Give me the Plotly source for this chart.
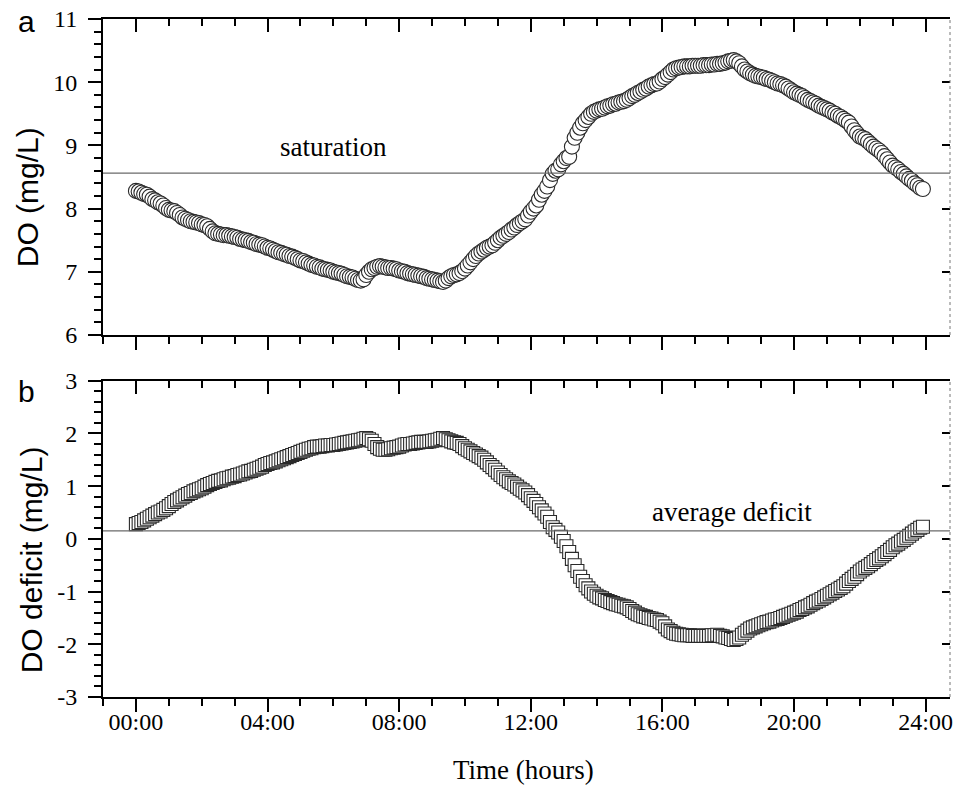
import numpy as np
import plotly.graph_objects as go

# Dissolved oxygen (mg/L), one reading every 5 minutes from 00:00 to 23:55
do_mgL = [
    8.28, 8.27, 8.25, 8.23, 8.22, 8.19, 8.15, 8.13, 8.10, 8.08, 8.05, 8.01,
    7.98, 7.97, 7.96, 7.93, 7.90, 7.86, 7.84, 7.82, 7.80, 7.79, 7.78, 7.77,
    7.75, 7.74, 7.72, 7.68, 7.64, 7.61, 7.60, 7.59, 7.58, 7.58, 7.57, 7.56,
    7.55, 7.54, 7.52, 7.51, 7.50, 7.49, 7.47, 7.46, 7.44, 7.43, 7.42, 7.40,
    7.38, 7.37, 7.35, 7.33, 7.31, 7.30, 7.28, 7.27, 7.25, 7.24, 7.22, 7.20,
    7.18, 7.17, 7.15, 7.13, 7.11, 7.10, 7.08, 7.07, 7.05, 7.04, 7.03, 7.02,
    7.00, 6.99, 6.98, 6.97, 6.95, 6.93, 6.92, 6.91, 6.89, 6.87, 6.86, 6.88,
    6.95, 7.00, 7.04, 7.06, 7.08, 7.09, 7.08, 7.07, 7.06, 7.06, 7.05, 7.04,
    7.02, 7.01, 7.00, 6.98, 6.97, 6.96, 6.95, 6.94, 6.93, 6.92, 6.90, 6.89,
    6.88, 6.87, 6.86, 6.85, 6.84, 6.86, 6.90, 6.93, 6.95, 6.96, 6.98, 7.01,
    7.05, 7.10, 7.15, 7.20, 7.25, 7.29, 7.32, 7.35, 7.38, 7.40, 7.42, 7.46,
    7.50, 7.54, 7.57, 7.60, 7.63, 7.67, 7.70, 7.74, 7.77, 7.80, 7.83, 7.89,
    7.95, 8.00, 8.05, 8.14, 8.22, 8.28, 8.35, 8.45, 8.55, 8.60, 8.62, 8.70,
    8.75, 8.80, 8.82, 8.98, 9.12, 9.20, 9.28, 9.35, 9.40, 9.45, 9.50, 9.53,
    9.55, 9.57, 9.58, 9.60, 9.62, 9.63, 9.65, 9.66, 9.68, 9.69, 9.70, 9.72,
    9.75, 9.78, 9.80, 9.83, 9.85, 9.88, 9.90, 9.93, 9.95, 9.97, 9.98, 10.01,
    10.05, 10.08, 10.12, 10.16, 10.20, 10.22, 10.23, 10.24, 10.25, 10.25, 10.25, 10.26,
    10.26, 10.26, 10.26, 10.27, 10.27, 10.27, 10.28, 10.28, 10.29, 10.29, 10.30, 10.31,
    10.33, 10.34, 10.35, 10.33, 10.30, 10.25, 10.20, 10.17, 10.14, 10.12, 10.10, 10.09,
    10.08, 10.07, 10.05, 10.04, 10.02, 10.00, 9.98, 9.97, 9.95, 9.93, 9.90, 9.87,
    9.84, 9.82, 9.80, 9.78, 9.75, 9.72, 9.70, 9.68, 9.66, 9.63, 9.61, 9.59,
    9.57, 9.55, 9.52, 9.50, 9.47, 9.45, 9.42, 9.39, 9.36, 9.30, 9.24, 9.19,
    9.14, 9.12, 9.10, 9.06, 9.02, 8.98, 8.95, 8.92, 8.88, 8.83, 8.78, 8.73,
    8.68, 8.65, 8.62, 8.58, 8.55, 8.51, 8.47, 8.44, 8.40, 8.37, 8.33, 8.31,
]

# DO deficit (mg/L), same time stamps
deficit_mgL = [
    0.28, 0.30, 0.32, 0.35, 0.38, 0.41, 0.44, 0.47, 0.50, 0.52, 0.55, 0.58,
    0.62, 0.66, 0.70, 0.73, 0.76, 0.79, 0.82, 0.85, 0.87, 0.90, 0.92, 0.94,
    0.96, 0.99, 1.02, 1.04, 1.06, 1.08, 1.10, 1.11, 1.13, 1.15, 1.16, 1.18,
    1.19, 1.21, 1.22, 1.24, 1.26, 1.28, 1.29, 1.31, 1.33, 1.35, 1.37, 1.40,
    1.42, 1.44, 1.45, 1.47, 1.49, 1.51, 1.53, 1.55, 1.57, 1.59, 1.61, 1.63,
    1.65, 1.67, 1.69, 1.71, 1.72, 1.74, 1.75, 1.75, 1.76, 1.77, 1.77, 1.78,
    1.78, 1.79, 1.80, 1.81, 1.82, 1.83, 1.84, 1.85, 1.86, 1.87, 1.88, 1.90,
    1.91, 1.89, 1.86, 1.80, 1.74, 1.71, 1.69, 1.69, 1.70, 1.72, 1.73, 1.74,
    1.75, 1.77, 1.79, 1.80, 1.80, 1.81, 1.82, 1.83, 1.84, 1.84, 1.84, 1.85,
    1.86, 1.87, 1.88, 1.90, 1.91, 1.89, 1.87, 1.85, 1.83, 1.82, 1.80, 1.76,
    1.72, 1.69, 1.66, 1.63, 1.60, 1.57, 1.54, 1.50, 1.45, 1.40, 1.36, 1.31,
    1.26, 1.21, 1.17, 1.13, 1.09, 1.06, 1.03, 0.99, 0.95, 0.92, 0.88, 0.83,
    0.77, 0.72, 0.66, 0.60, 0.54, 0.48, 0.42, 0.32, 0.22, 0.17, 0.12, 0.04,
    -0.04, -0.14, -0.25, -0.38, -0.50, -0.61, -0.72, -0.80, -0.88, -0.94, -1.00, -1.04,
    -1.08, -1.11, -1.13, -1.16, -1.18, -1.20, -1.22, -1.24, -1.25, -1.27, -1.28, -1.30,
    -1.33, -1.37, -1.40, -1.43, -1.45, -1.47, -1.48, -1.50, -1.51, -1.53, -1.54, -1.57,
    -1.60, -1.66, -1.72, -1.75, -1.78, -1.80, -1.81, -1.82, -1.83, -1.83, -1.83, -1.84,
    -1.84, -1.84, -1.84, -1.84, -1.84, -1.84, -1.83, -1.83, -1.82, -1.84, -1.85, -1.87,
    -1.88, -1.90, -1.92, -1.90, -1.87, -1.82, -1.78, -1.74, -1.70, -1.68, -1.66, -1.64,
    -1.62, -1.60, -1.58, -1.57, -1.55, -1.53, -1.52, -1.50, -1.48, -1.46, -1.44, -1.42,
    -1.40, -1.38, -1.35, -1.33, -1.30, -1.28, -1.25, -1.22, -1.19, -1.17, -1.14, -1.11,
    -1.08, -1.05, -1.02, -0.99, -0.96, -0.93, -0.90, -0.85, -0.80, -0.76, -0.72, -0.67,
    -0.62, -0.58, -0.55, -0.52, -0.48, -0.44, -0.40, -0.37, -0.33, -0.29, -0.25, -0.21,
    -0.16, -0.12, -0.09, -0.05, -0.02, 0.02, 0.06, 0.10, 0.14, 0.17, 0.21, 0.23,
]

hours = np.arange(len(do_mgL)) * 5 / 60.0

saturation_level = 8.56
average_deficit = 0.15

x_tick_vals = [0, 4, 8, 12, 16, 20, 24]
x_tick_text = ["00:00", "04:00", "08:00", "12:00", "16:00", "20:00", "24:00"]
x_minor_vals = list(range(-1, 25))
do_tick_vals = [6, 7, 8, 9, 10, 11]
do_tick_text = ["6", "7", "8", "9", "10", "11"]
def_tick_vals = [-3, -2, -1, 0, 1, 2, 3]
def_tick_text = ["-3", "-2", "-1", "0", "1", "2", "3"]

X_RANGE = [-1, 24.74]
SERIF = "Liberation Serif, Times New Roman, serif"
SANS = "Liberation Sans, Arial, sans-serif"

circle_marker = dict(symbol="circle", size=15, color="white",
                     line=dict(color="#2a2a2a", width=1.1))
square_marker = dict(symbol="square", size=13, color="white",
                     line=dict(color="#2a2a2a", width=1.1))

fig = go.Figure()
fig.add_trace(go.Scatter(x=hours, y=do_mgL, xaxis="x2", yaxis="y2",
                         mode="markers", marker=circle_marker,
                         showlegend=False, hoverinfo="skip"))
fig.add_trace(go.Scatter(x=hours, y=deficit_mgL, xaxis="x", yaxis="y",
                         mode="markers", marker=square_marker,
                         showlegend=False, hoverinfo="skip"))
# transparent copies so that the mirrored (inside-tick) frame axes are drawn
fig.add_trace(go.Scatter(x=hours, y=do_mgL, xaxis="x4", yaxis="y4",
                         mode="markers", marker=dict(opacity=0),
                         showlegend=False, hoverinfo="skip"))
fig.add_trace(go.Scatter(x=hours, y=deficit_mgL, xaxis="x3", yaxis="y3",
                         mode="markers", marker=dict(opacity=0),
                         showlegend=False, hoverinfo="skip"))


def x_axis(anchor, labels, side="bottom", ticks="outside", overlay=None):
    d = dict(
        range=X_RANGE, anchor=anchor, side=side, domain=[0, 1],
        showgrid=False, zeroline=False,
        showline=True, linecolor="black", linewidth=2,
        tickmode="array", tickvals=x_tick_vals, ticktext=x_tick_text,
        ticks=ticks, ticklen=13, tickwidth=2, tickcolor="black",
        showticklabels=labels,
        tickfont=dict(family=SERIF, size=24, color="black"),
        ticklabelstandoff=-11, ticklabeloverflow="allow",
        minor=dict(tickmode="array", tickvals=x_minor_vals, ticks=ticks,
                   ticklen=7, tickwidth=1.6, tickcolor="black"),
    )
    if overlay:
        d["overlaying"] = overlay
    return d


def y_axis(anchor, domain, rng, vals, text, side="left", ticks="outside",
           labels=True, overlay=None, line=True):
    d = dict(
        range=rng, anchor=anchor, side=side,
        showgrid=False, zeroline=False,
        showline=line, linecolor="black", linewidth=2,
        tickmode="array", tickvals=vals, ticktext=text,
        ticks=ticks, ticklen=13 if side == "left" else 8, tickwidth=2,
        tickcolor="black", showticklabels=labels,
        tickfont=dict(family=SERIF, size=24, color="black"),
        ticklabelstandoff=6, ticklabeloverflow="allow",
    )
    if side == "left":
        d["minor"] = dict(dtick=0.2, tick0=0, ticks=ticks, ticklen=7,
                          tickwidth=1.6, tickcolor="black")
    if overlay:
        d["overlaying"] = overlay
    else:
        d["domain"] = domain
    return d


dom_b = [0, 0.4665]
dom_a = [0.5339, 1]

fig.update_layout(
    width=955, height=787,
    margin=dict(l=103, r=2, t=19, b=90),
    paper_bgcolor="white", plot_bgcolor="white",
    showlegend=False,
    xaxis=x_axis("y", True),
    xaxis2=x_axis("y2", False),
    xaxis3=x_axis("y", False, side="top", ticks="inside", overlay="x"),
    xaxis4=x_axis("y2", False, side="top", ticks="inside", overlay="x2"),
    yaxis=y_axis("x", dom_b, [-3, 3], def_tick_vals, def_tick_text),
    yaxis2=y_axis("x2", dom_a, [6, 11], do_tick_vals, do_tick_text),
    yaxis3=y_axis("x", dom_b, [-3, 3], def_tick_vals, def_tick_text,
                  side="right", ticks="inside", labels=False, overlay="y",
                  line=False),
    yaxis4=y_axis("x2", dom_a, [6, 11], do_tick_vals, do_tick_text,
                  side="right", ticks="inside", labels=False, overlay="y2",
                  line=False),
)

# reference lines
fig.add_shape(type="line", xref="x2 domain", yref="y2", x0=0, x1=1,
              y0=saturation_level, y1=saturation_level,
              line=dict(color="#6a6a6a", width=1.3))
fig.add_shape(type="line", xref="x domain", yref="y", x0=0, x1=1,
              y0=average_deficit, y1=average_deficit,
              line=dict(color="#6a6a6a", width=1.3))
# dotted right frame lines
fig.add_shape(type="line", xref="x2 domain", yref="y2 domain", x0=1, x1=1,
              y0=0, y1=1, line=dict(color="#777777", width=1, dash="dot"))
fig.add_shape(type="line", xref="x domain", yref="y domain", x0=1, x1=1,
              y0=0, y1=1, line=dict(color="#777777", width=1, dash="dot"))

annots = [
    dict(text="a", x=-0.0906, y=0.9956, xref="paper", yref="paper",
         font=dict(family=SANS, size=30, color="black")),
    dict(text="b", x=-0.0906, y=0.451, xref="paper", yref="paper",
         font=dict(family=SANS, size=30, color="black")),
    dict(text="saturation", x=6.0, y=8.975, xref="x2", yref="y2",
         font=dict(family=SERIF, size=27, color="black")),
    dict(text="average deficit", x=18.11, y=0.507, xref="x", yref="y",
         font=dict(family=SERIF, size=27, color="black")),
    dict(text="Time (hours)", x=0.4965, y=-0.1077, xref="paper", yref="paper",
         font=dict(family=SERIF, size=27, color="black")),
    dict(text="DO (mg/L)", x=-0.0882, y=0.7375, xref="paper", yref="paper",
         textangle=-90, font=dict(family=SANS, size=30, color="black")),
    dict(text="DO deficit (mg/L)", x=-0.0847, y=0.202, xref="paper",
         yref="paper", textangle=-90,
         font=dict(family=SANS, size=30, color="black")),
]
for a in annots:
    a.update(showarrow=False, xanchor="center", yanchor="middle")
    fig.add_annotation(**a)

fig.write_html(
    "out.html",
    config={"displayModeBar": False},
    post_script="document.body.style.margin='0';document.body.style.padding='0';",
)
